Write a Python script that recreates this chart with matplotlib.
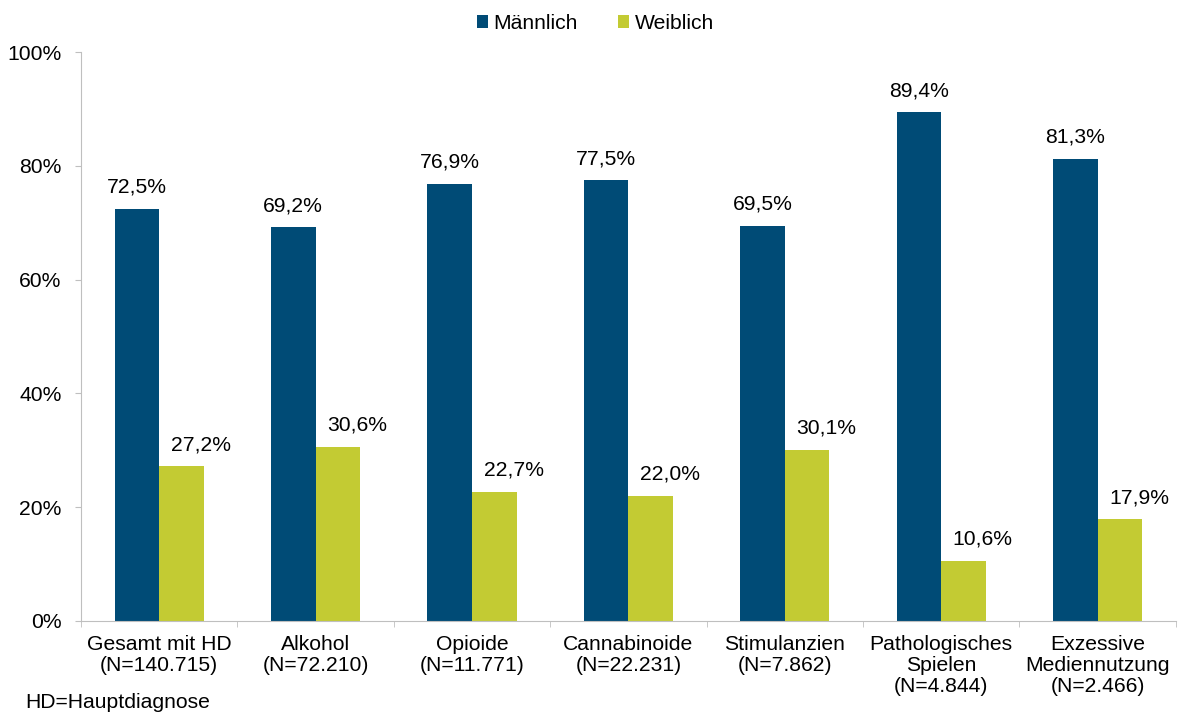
import matplotlib
matplotlib.use("Agg")
import matplotlib.pyplot as plt
import numpy as np
from matplotlib.ticker import FixedLocator, PercentFormatter

plt.rcParams["font.family"] = ["Liberation Sans", "DejaVu Sans"]

categories = [
    "Gesamt mit HD\n(N=140.715)",
    "Alkohol\n(N=72.210)",
    "Opioide\n(N=11.771)",
    "Cannabinoide\n(N=22.231)",
    "Stimulanzien\n(N=7.862)",
    "Pathologisches\nSpielen\n(N=4.844)",
    "Exzessive\nMediennutzung\n(N=2.466)",
]
maennlich = [72.5, 69.2, 76.9, 77.5, 69.5, 89.4, 81.3]
weiblich = [27.2, 30.6, 22.7, 22.0, 30.1, 10.6, 17.9]

BLUE = "#004B76"
GREEN = "#C3CB33"
GRAY = "#BFBFBF"
FS = 15.2

fig = plt.figure(figsize=(11.84, 7.15), dpi=100)
ax = fig.add_axes([0.0684, 0.1315, 0.9246, 0.7955])

x = np.arange(len(categories))
w = 0.285
b1 = ax.bar(x - w / 2, maennlich, w, color=BLUE, label="Männlich")
b2 = ax.bar(x + w / 2, weiblich, w, color=GREEN, label="Weiblich")

# Weiblich labels sit a little right of their bars, as in the original
for bars, vals, dx in ((b1, maennlich, 0), (b2, weiblich, 14)):
    for rect, v in zip(bars, vals):
        ax.annotate(f"{v:.1f}%".replace(".", ","),
                    (rect.get_x() + rect.get_width() / 2, v),
                    xytext=(dx, 11.5), textcoords="offset points",
                    ha="center", va="baseline", fontsize=FS)

ax.set_xlim(-0.5, len(categories) - 0.5)
ax.set_ylim(0, 100)
ax.set_yticks(np.arange(0, 101, 20))
ax.yaxis.set_major_formatter(PercentFormatter(decimals=0))
ax.set_xticks(x)
ax.set_xticklabels(categories, fontsize=FS, linespacing=1.15)
ax.xaxis.set_minor_locator(FixedLocator(np.arange(-0.5, len(categories), 1.0)))
ax.tick_params(axis="x", which="major", length=0, pad=10)
ax.tick_params(axis="x", which="minor", length=4, color=GRAY)
ax.tick_params(axis="y", length=4, color=GRAY, labelsize=FS, pad=10)

for s in ("top", "right"):
    ax.spines[s].set_visible(False)
for s in ("left", "bottom"):
    ax.spines[s].set_color(GRAY)

handles, labels = ax.get_legend_handles_labels()
fig.legend(handles, labels, loc="center", bbox_to_anchor=(0.503, 1 - 23.5 / 715),
           ncol=2, frameon=False, fontsize=FS, handlelength=0.52,
           handleheight=0.52, columnspacing=1.9, handletextpad=0.25)

fig.text(0.021, 0.0098, "HD=Hauptdiagnose", fontsize=FS, ha="left", va="baseline")

fig.savefig("out.png", dpi=100)
